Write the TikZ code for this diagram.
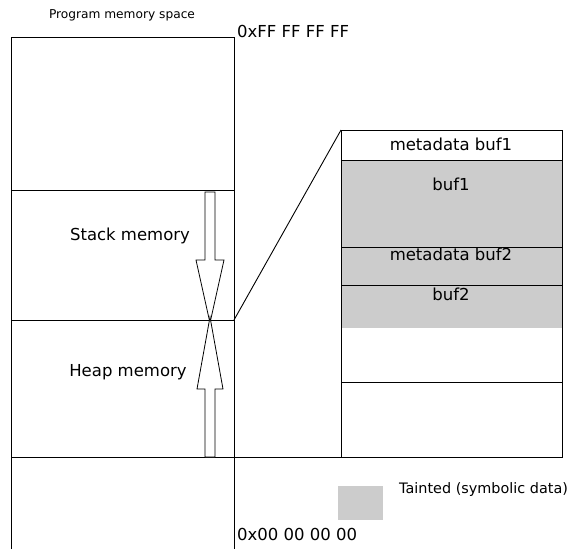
\documentclass[tikz,border=0pt]{standalone}
\usepackage{fontspec}
\setmainfont{DejaVu Sans}
\definecolor{taint}{HTML}{CCCCCC}
\begin{document}
\begin{tikzpicture}[x=1pt,y=-1pt,
  ln/.style={draw=black,line width=0.9pt},
  lbl/.style={inner sep=0pt,font=\fontsize{16.5}{18}\selectfont},
  small/.style={inner sep=0pt,font=\fontsize{12.2}{14}\selectfont},
  legend/.style={inner sep=0pt,font=\fontsize{14.4}{16}\selectfont},
  arr/.style={draw=black,line width=0.8pt,fill=white,line join=miter}]
\useasboundingbox (0,0) rectangle (567,549);
% left memory column
\draw[ln] (11,549) -- (11,37) -- (234,37) -- (234,549);
\draw[ln] (11,190) -- (234,190);
\draw[ln] (11,320) -- (234,320);
\draw[ln] (11,457) -- (562,457);
% right box
\fill[taint] (341,160) rectangle (562,328);
\draw[ln] (341,130) rectangle (562,457);
\draw[ln] (341,160) -- (562,160);
\draw[ln] (341,247) -- (562,247);
\draw[ln] (341,285) -- (562,285);
\draw[ln] (341,382) -- (562,382);
% zoom connector
\coordinate (zfrom) at (234,320);
\coordinate (zto) at (341,130);
\draw[ln] (zfrom) -- (zto);
% arrows
\draw[arr] (205,192) -- (215,192) -- (215,260) -- (224,260) -- (210,323) -- (196,260) -- (205,260) -- cycle;
\draw[arr] (205,457) -- (215,457) -- (215,389) -- (223,389) -- (210,317) -- (197,389) -- (205,389) -- cycle;
% texts
\node[small] (title) at (122,15) {Program memory space};
\node[lbl,anchor=west] (top) at (237,31) {0xFF FF FF FF};
\node[lbl,anchor=west] (bot) at (237,534) {0x00 00 00 00};
\node[lbl] (stack) at (130,236) {Stack memory};
\node[lbl] (heap) at (128,372) {Heap memory};
\node[lbl] (md1) at (451,144) {metadata buf1};
\node[lbl] (b1) at (451,184) {buf1};
\node[lbl] (md2) at (451,254) {metadata buf2};
\node[lbl] (b2) at (451,294) {buf2};
% legend
\fill[taint] (338,486) rectangle (383,520) coordinate (lg);
\node[legend,anchor=west] (tainted) at (399,490) {Tainted (symbolic data)};
\end{tikzpicture}
\end{document}
